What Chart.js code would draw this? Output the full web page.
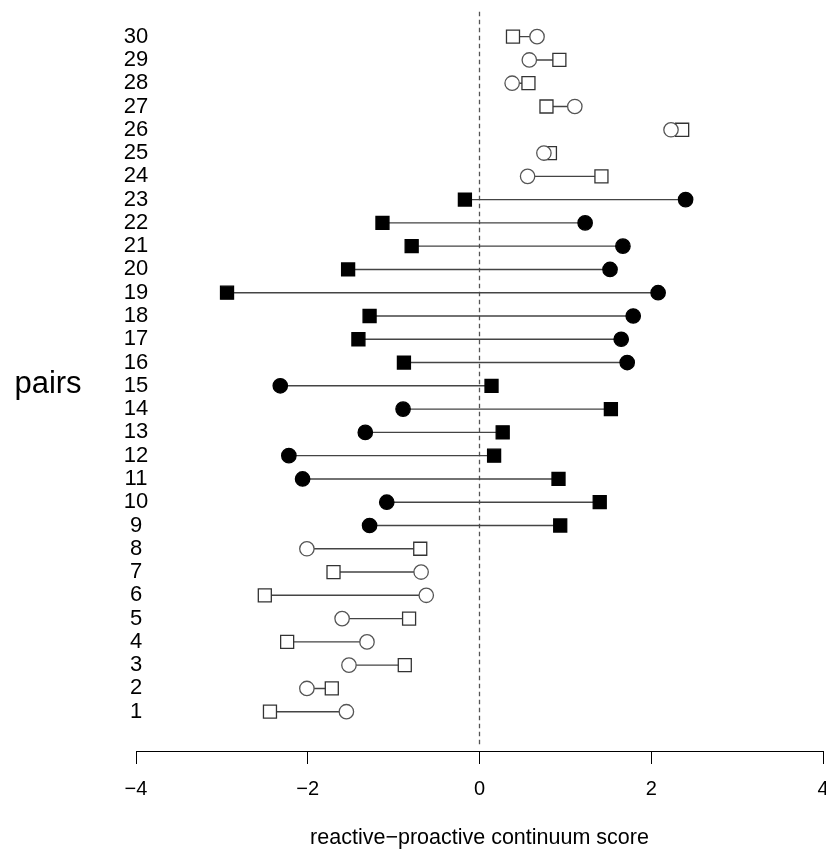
<!DOCTYPE html>
<html>
<head>
<meta charset="utf-8">
<script src="https://cdn.jsdelivr.net/npm/chart.js@4.4.1/dist/chart.umd.min.js"></script>
<style>
  html, body { margin: 0; padding: 0; background: #fff; }
  #wrap { width: 826px; height: 849px; }
</style>
</head>
<body>
<div id="wrap"><canvas id="chart" width="826" height="849"></canvas></div>
<script>
// pairs 1..30, bottom to top
const pairs = Array.from({length: 30}, (_, i) => i + 1);
const circleScores = [
  -1.55, -2.01, -1.52, -1.31, -1.60, -0.62, -0.68, -2.01, -1.28, -1.08,
  -2.06, -2.22, -1.33, -0.89, -2.32, 1.72, 1.65, 1.79, 2.08, 1.52,
  1.67, 1.23, 2.40, 0.56, 0.75, 2.23, 1.11, 0.38, 0.58, 0.67
];
const squareScores = [
  -2.44, -1.72, -0.87, -2.24, -0.82, -2.50, -1.70, -0.69, 0.94, 1.40,
  0.92, 0.17, 0.27, 1.53, 0.14, -0.88, -1.41, -1.28, -2.94, -1.53,
  -0.79, -1.13, -0.17, 1.42, 0.82, 2.36, 0.78, 0.57, 0.93, 0.39
];
// filled markers for pairs 9..23
const filledPairs = [9, 10, 11, 12, 13, 14, 15, 16, 17, 18, 19, 20, 21, 22, 23];
const xTicks = [-4, -2, 0, 2, 4];
const refLine = [{x: 0, y: -0.4}, {x: 0, y: 31.2}];

const FONT = "'Liberation Sans', Arial, sans-serif";
const isFilled = i => filledPairs.includes(pairs[i]);
const fmt = v => v < 0 ? '\u2212' + Math.abs(v) : String(v);

// connector segments, broken by null points
const connectors = [];
pairs.forEach((p, i) => {
  connectors.push({x: circleScores[i], y: p}, {x: squareScores[i], y: p}, {x: null, y: null});
});

// tick labels (R style: y labels centred on the left end of the axis) and the "pairs" label
const labels = {
  id: 'labels',
  afterDraw(chart) {
    const c = chart.ctx, xs = chart.scales.x, ys = chart.scales.y;
    c.save();
    c.fillStyle = '#000';
    c.textAlign = 'center';
    c.textBaseline = 'middle';
    c.font = '22px ' + FONT;
    pairs.forEach(p => c.fillText(String(p), xs.left, ys.getPixelForValue(p)));
    c.font = '20px ' + FONT;
    xTicks.forEach(v => c.fillText(fmt(v), xs.getPixelForValue(v), 789.5));
    c.font = '31px ' + FONT;
    c.fillText('pairs', 48, 384);
    c.restore();
  }
};

new Chart(document.getElementById('chart'), {
  type: 'scatter',
  data: {
    datasets: [
      {
        data: refLine, showLine: true, pointRadius: 0,
        borderColor: '#555', borderWidth: 1.3, borderDash: [4.5, 3.5], order: 4
      },
      {
        data: connectors, showLine: true, spanGaps: false, pointRadius: 0,
        borderColor: '#444', borderWidth: 1.4, order: 3
      },
      {
        data: pairs.map((p, i) => ({x: squareScores[i], y: p})),
        pointStyle: 'rect', pointRadius: 9.2, pointBorderWidth: 1.3,
        pointBackgroundColor: ctx => isFilled(ctx.dataIndex) ? '#000' : '#fff',
        pointBorderColor: ctx => isFilled(ctx.dataIndex) ? '#000' : '#333',
        order: 2
      },
      {
        data: pairs.map((p, i) => ({x: circleScores[i], y: p})),
        pointStyle: 'circle', pointRadius: 7.2, pointBorderWidth: 1.3,
        pointBackgroundColor: ctx => isFilled(ctx.dataIndex) ? '#000' : '#fff',
        pointBorderColor: ctx => isFilled(ctx.dataIndex) ? '#000' : '#555',
        order: 1
      }
    ]
  },
  options: {
    responsive: false,
    animation: false,
    events: [],
    layout: { autoPadding: false, padding: { top: 6.4, left: 0, right: 3, bottom: 0 } },
    plugins: { legend: { display: false }, tooltip: { enabled: false } },
    scales: {
      x: {
        type: 'linear', min: -4, max: 4,
        afterBuildTicks: s => { s.ticks = xTicks.map(v => ({value: v})); },
        afterFit: s => { s.height = 98; },
        border: { display: true, color: '#000', width: 1 },
        grid: { display: true, drawOnChartArea: false, drawTicks: true, tickLength: 13, color: '#000', lineWidth: 1 },
        ticks: { display: false },
        title: {
          display: true, text: 'reactive\u2212proactive continuum score', color: '#000',
          font: { family: FONT, size: 21.5, lineHeight: 1 }, padding: { top: 0, bottom: 0 }
        }
      },
      y: {
        type: 'linear', min: -0.688, max: 31.3,
        afterBuildTicks: s => { s.ticks = pairs.map(v => ({value: v})); },
        afterFit: s => { s.width = 136; },
        border: { display: false },
        grid: { display: false, drawTicks: false },
        ticks: { display: false }
      }
    }
  },
  plugins: [labels]
});
</script>
</body>
</html>
